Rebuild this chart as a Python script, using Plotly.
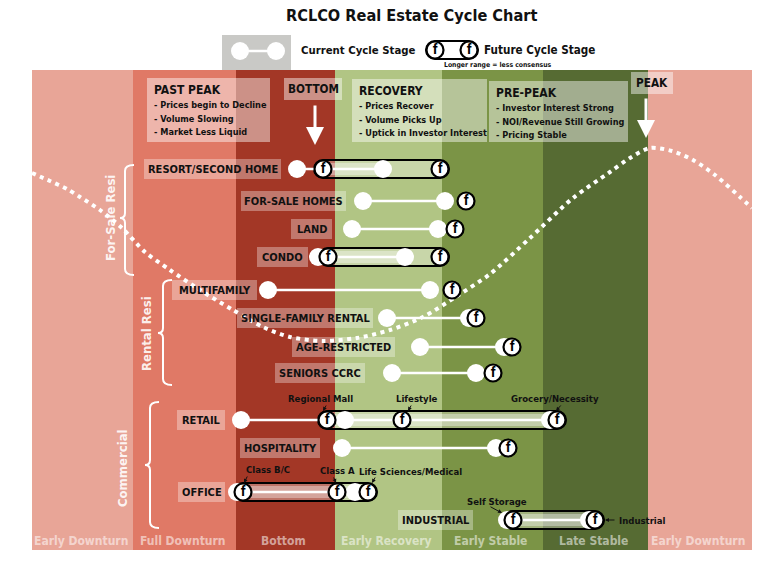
import plotly.graph_objects as go

# ------------------------------------------------------------------ data
STAGES = ["Early Downturn", "Full Downturn", "Bottom", "Early Recovery",
          "Early Stable", "Late Stable", "Early Downturn"]
STAGE_EDGES = [32, 133, 236, 335, 442, 543, 648, 752]   # position along the cycle

SECTORS = ["RESORT/SECOND HOME", "FOR-SALE HOMES", "LAND", "CONDO",
           "MULTIFAMILY", "SINGLE-FAMILY RENTAL", "AGE-RESTRICTED", "SENIORS CCRC",
           "RETAIL", "HOSPITALITY", "OFFICE", "INDUSTRIAL"]
CURRENT_STAGE = [[297, 383], [363, 445], [352, 438], [318, 405],
                 [268, 430], [387, 469], [420, 504], [392, 476],
                 [241, 345, 550], [342, 496], [237, 355], [507, 589]]
FUTURE_STAGE = [[323, 440], [466], [455], [328, 440],
                [452], [476], [512], [493],
                [327, 402, 557], [508], [243, 337, 368], [513, 595]]

GROUPS = ["For-Sale Resi", "Rental Resi", "Commercial"]

SUB_LABELS = ["Regional Mall", "Lifestyle", "Grocery/Necessity",
              "Class B/C", "Class A", "Life Sciences/Medical",
              "Self Storage", "Industrial"]

PHASES = ["PAST PEAK", "BOTTOM", "RECOVERY", "PRE-PEAK", "PEAK"]
PHASE_NOTES = [["- Prices begin to Decline", "- Volume Slowing", "- Market Less Liquid"],
               [],
               ["- Prices Recover", "- Volume Picks Up", "- Uptick in Investor Interest"],
               ["- Investor Interest Strong", "- NOI/Revenue Still Growing", "- Pricing Stable"],
               []]

CYCLE_X = [32, 50, 67, 80, 100, 122, 145, 170, 200, 233, 263, 290, 323, 357, 390,
           423, 457, 490, 530, 573, 610, 630, 650, 672, 693, 715, 740, 752]
CYCLE_Y = [173, 181, 189, 197, 210, 228, 252, 270, 290, 310, 327, 337, 341, 338, 330,
           317, 296, 274, 238, 198, 172, 158, 148, 151, 160, 175, 197, 208]

# ------------------------------------------------------------------ layout / style
# the page adds an 8px body margin, so the figure covers page pixels 8..760 / 8..554
PAGE_OFF = 8
W, H = 752, 546
FONT = "DejaVu Sans Condensed, Liberation Sans Narrow, Arial Narrow, sans-serif"
STAGE_COLORS = ["#E8A597", "#E07966", "#A33726", "#B1C584", "#7B9446", "#566B33", "#E8A597"]
BAND_TOP, BAND_BOTTOM = 70, 550
ROW_Y = [169, 201, 229, 257, 290, 318, 347, 373, 420, 448, 492, 520]
LABEL_BOX = [(144, 281), (241, 346), (291, 332), (257, 308), (172, 257), (237, 373),
             (292, 395), (275, 365), (177, 225), (240, 320), (178, 225), (398, 473)]
GROUP_LAYOUT = [  # text x, text y, bracket x, top, bottom, notch y
    (110, 218, 125, 165, 275, 218),
    (146, 334, 163, 280, 385, 333),
    (122, 468, 150, 402, 528, 465),
]
SUB_LAYOUT = [  # text x, text y, anchor, arrow tail, arrow head
    (320, 398, "center", (327, 404), (323, 411)),
    (417, 398, "center", (412, 404), (408, 411)),
    (555, 398, "center", (562, 404), (556, 411)),
    (268, 469, "center", (248, 475), (244, 483)),
    (337, 470, "center", (333, 476), (336, 483)),
    (410, 471, "center", (376, 476), (372, 483)),
    (497, 501, "center", (489, 506), (502, 513)),
    (617, 520, "left", (616, 520), (605, 520)),
]
PHASE_BOX = [(147, 270, 78, 142), (284, 342, 78, 100), (352, 487, 79, 142),
             (489, 628, 81, 142), (631, 673, 72, 94)]
PHASE_ARROWS = [None, (315, 104, 145), None, None, (646, 97, 138)]

R = 9          # radius of capsule ends / stage circles
K = 0.5523


def capsule(xa, xb, y, r):
    return (f"M {xa},{y - r} L {xb},{y - r} "
            f"C {xb + K * r},{y - r} {xb + r},{y - K * r} {xb + r},{y} "
            f"C {xb + r},{y + K * r} {xb + K * r},{y + r} {xb},{y + r} "
            f"L {xa},{y + r} "
            f"C {xa - K * r},{y + r} {xa - r},{y + K * r} {xa - r},{y} "
            f"C {xa - r},{y - K * r} {xa - K * r},{y - r} {xa},{y - r} Z")


shapes = []
annotations = []

# stage bands
for i, col in enumerate(STAGE_COLORS):
    shapes.append(dict(type="rect", xref="x", yref="y", x0=STAGE_EDGES[i], x1=STAGE_EDGES[i + 1],
                       y0=BAND_TOP, y1=BAND_BOTTOM, fillcolor=col, line=dict(width=0), layer="below"))
    annotations.append(dict(x=(STAGE_EDGES[i] + STAGE_EDGES[i + 1]) / 2 - 2, y=541, xref="x", yref="y",
                            text=f"<b>{STAGES[i]}</b>", showarrow=False,
                            font=dict(family=FONT, size=12, color="rgba(255,255,255,0.55)")))

# legend area
shapes.append(dict(type="rect", xref="x", yref="y", x0=222, x1=291, y0=35, y1=BAND_TOP,
                   fillcolor="#C9C9C6", line=dict(width=0), layer="below"))
shapes.append(dict(type="path", xref="x", yref="y", path=capsule(435, 469, 50, R),
                   fillcolor="white", line=dict(color="black", width=2), layer="below"))

# phase boxes
for (x0, x1, y0, y1) in PHASE_BOX:
    shapes.append(dict(type="rect", xref="x", yref="y", x0=x0, x1=x1, y0=y0, y1=y1,
                       fillcolor="rgba(255,255,255,0.45)", line=dict(width=0), layer="below"))

# future-stage capsules
for fut, y, cur in zip(FUTURE_STAGE, ROW_Y, CURRENT_STAGE):
    if len(fut) > 1:
        shapes.append(dict(type="path", xref="x", yref="y", path=capsule(fut[0], fut[-1], y, R),
                           fillcolor="rgba(255,255,255,0.3)", line=dict(color="black", width=2),
                           layer="below"))
        a, b = max(cur[0], fut[0]), min(cur[-1], fut[-1])
        if b > a:
            shapes.append(dict(type="rect", xref="x", yref="y", x0=a, x1=b, y0=y - 6, y1=y + 6,
                               fillcolor="rgba(255,255,255,0.35)", line=dict(width=0), layer="below"))

# row label boxes
for (x0, x1), y, name in zip(LABEL_BOX, ROW_Y, SECTORS):
    shapes.append(dict(type="rect", xref="x", yref="y", x0=x0, x1=x1, y0=y - 10, y1=y + 10,
                       fillcolor="rgba(255,255,255,0.33)", line=dict(width=0), layer="above"))
    annotations.append(dict(x=(x0 + x1) / 2, y=y, xref="x", yref="y", text=f"<b>{name}</b>",
                            showarrow=False, font=dict(family=FONT, size=11, color="#111")))

# group brackets
for name, (tx, ty, bx, top, bot, mid) in zip(GROUPS, GROUP_LAYOUT):
    xr, xl = bx + 9, bx - 5
    path = (f"M {xr},{top} Q {bx},{top} {bx},{top + 6} L {bx},{mid - 5} "
            f"Q {bx},{mid} {xl},{mid} Q {bx},{mid} {bx},{mid + 5} "
            f"L {bx},{bot - 6} Q {bx},{bot} {xr},{bot}")
    shapes.append(dict(type="path", xref="x", yref="y", path=path,
                       line=dict(color="white", width=2), layer="below"))
    annotations.append(dict(x=tx, y=ty, xref="x", yref="y", text=f"<b>{name}</b>", textangle=-90,
                            showarrow=False, font=dict(family=FONT, size=13, color="rgba(255,255,255,0.9)")))

# sub labels with small arrows
for name, (tx, ty, anc, tail, head) in zip(SUB_LABELS, SUB_LAYOUT):
    annotations.append(dict(x=tx, y=ty, xref="x", yref="y", text=f"<b>{name}</b>", xanchor=anc,
                            showarrow=False, font=dict(family=FONT, size=9.5, color="#111")))
    annotations.append(dict(x=head[0], y=head[1], ax=tail[0], ay=tail[1], xref="x", yref="y",
                            axref="x", ayref="y", text="", showarrow=True, arrowhead=2,
                            arrowsize=0.8, arrowwidth=1, arrowcolor="#111", standoff=0))

# phase texts and arrows
for name, notes, (x0, x1, y0, y1), arr in zip(PHASES, PHASE_NOTES, PHASE_BOX, PHASE_ARROWS):
    if notes:
        annotations.append(dict(x=x0 + 5, y=y0 + 12, xref="x", yref="y", text=f"<b>{name}</b>",
                                xanchor="left", showarrow=False,
                                font=dict(family=FONT, size=12, color="#111")))
        for k, note in enumerate(notes):
            annotations.append(dict(x=x0 + 5, y=y0 + 27 + 13.5 * k, xref="x", yref="y",
                                    text=f"<b>{note}</b>", xanchor="left", showarrow=False,
                                    font=dict(family=FONT, size=9.1, color="#111")))
    else:
        annotations.append(dict(x=(x0 + x1) / 2, y=(y0 + y1) / 2, xref="x", yref="y",
                                text=f"<b>{name}</b>", showarrow=False,
                                font=dict(family=FONT, size=11.7, color="#111")))
    if arr:
        ax_, t, h = arr
        annotations.append(dict(x=ax_, y=h, ax=ax_, ay=t, xref="x", yref="y", axref="x", ayref="y",
                                text="", showarrow=True, arrowhead=2, arrowsize=1.2,
                                arrowwidth=3, arrowcolor="white", standoff=0))

# title & legend text
annotations += [
    dict(x=411, y=15, xref="x", yref="y", text="<b>RCLCO Real Estate Cycle Chart</b>", showarrow=False,
         font=dict(family=FONT, size=16.2, color="#111")),
    dict(x=299, y=50, xref="x", yref="y", text="<b>Current Cycle Stage</b>", xanchor="left",
         showarrow=False, font=dict(family=FONT, size=11.3, color="#111")),
    dict(x=482, y=50, xref="x", yref="y", text="<b>Future Cycle Stage</b>", xanchor="left",
         showarrow=False, font=dict(family=FONT, size=11.6, color="#111")),
    dict(x=497, y=65, xref="x", yref="y", text="<b>Longer range = less consensus</b>",
         showarrow=False, font=dict(family=FONT, size=6.8, color="#111")),
]

# ------------------------------------------------------------------ traces
fig = go.Figure()

fig.add_trace(go.Scatter(x=CYCLE_X, y=CYCLE_Y, mode="lines", hoverinfo="skip",
                         line=dict(color="white", width=4, dash="4px,4.5px", shape="spline",
                                   smoothing=0.8)))

lx, ly = [], []
cx, cy = [], []
for cur, y in zip(CURRENT_STAGE, ROW_Y):
    lx += [cur[0], cur[-1], None]
    ly += [y, y, None]
    cx += cur
    cy += [y] * len(cur)
# legend icon for current stage
lx += [240, 276, None]
ly += [51, 51, None]
cx += [240, 276]
cy += [51, 51]
fig.add_trace(go.Scatter(x=lx, y=ly, mode="lines", hoverinfo="skip",
                         line=dict(color="white", width=2.5)))
fig.add_trace(go.Scatter(x=cx, y=cy, mode="markers", hoverinfo="skip",
                         marker=dict(size=18, color="white", line=dict(width=0))))

fx, fy = [], []
for fut, y in zip(FUTURE_STAGE, ROW_Y):
    fx += fut
    fy += [y] * len(fut)
fx += [435, 469]
fy += [50, 50]
fig.add_trace(go.Scatter(x=fx, y=fy, mode="markers+text", hoverinfo="skip",
                         text=["<b>f</b>"] * len(fx), textposition="middle center",
                         textfont=dict(family="Liberation Sans, Arial, sans-serif", size=14, color="black"),
                         marker=dict(size=17, color="white", line=dict(width=2.2, color="black"))))

fig.update_layout(
    width=W, height=H, margin=dict(l=0, r=0, t=0, b=0),
    paper_bgcolor="white", plot_bgcolor="white", showlegend=False,
    xaxis=dict(range=[PAGE_OFF, PAGE_OFF + W], visible=False, fixedrange=True),
    yaxis=dict(range=[PAGE_OFF + H, PAGE_OFF], visible=False, fixedrange=True),
    shapes=shapes, annotations=annotations,
)

fig.write_html("out.html")
